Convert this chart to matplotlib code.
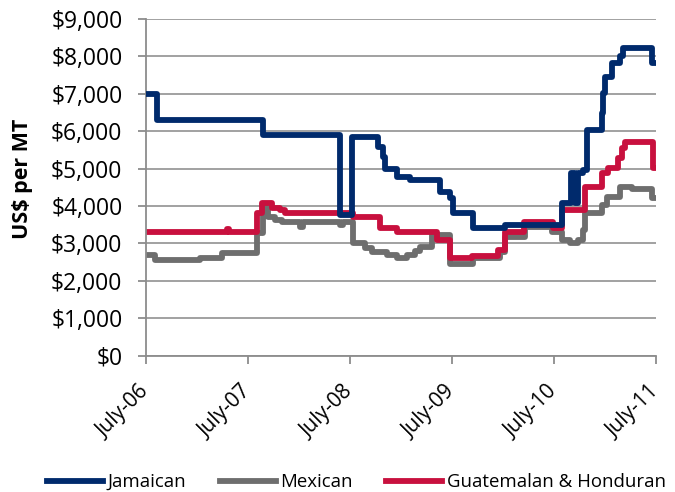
import matplotlib
matplotlib.use("Agg")
import matplotlib.pyplot as plt
from matplotlib.transforms import ScaledTranslation

# months since July 2006 where each price step begins (step-post)
jam_months = [0, 1.3, 13.8, 22.8, 24.2, 27.3, 27.9, 28.1, 29.5, 31.1, 34.6, 35.8, 36.1,
              38.5, 42.2, 48.9, 50.0, 50.5, 50.8, 51.4, 51.9, 53.6, 53.8, 54.0, 54.8,
              55.8, 56.1, 59.5, 60]
jam_price = [7000, 6300, 5900, 3750, 5850, 5570, 5300, 5000, 4770, 4690, 4370, 4200, 3800,
             3400, 3480, 4080, 4880, 4080, 4880, 4960, 6030, 6480, 7020, 7450, 7810,
             8020, 8220, 7810, 7810]

mex_months = [0, 1.1, 6.4, 8.9, 13.1, 13.8, 14.4, 15.2, 16.0, 18.1, 18.5, 22.8, 23.2,
              24.4, 25.8, 26.6, 28.4, 29.5, 30.7, 31.6, 32.2, 33.6, 35.8, 38.5, 41.6,
              42.2, 44.6, 47.8, 48.9, 49.9, 50.8, 51.4, 51.6, 53.6, 54.2, 55.8, 57.2,
              59.5, 60]
mex_price = [2700, 2550, 2620, 2750, 3270, 3940, 3700, 3620, 3580, 3450, 3580, 3480, 3580,
             3000, 2870, 2760, 2680, 2600, 2700, 2800, 2900, 3220, 2450, 2600, 2770,
             3170, 3440, 3300, 3090, 3000, 3090, 3360, 3800, 4020, 4230, 4500, 4450,
             4200, 4200]

gh_months = [0, 9.5, 9.8, 13.1, 13.6, 14.8, 15.8, 16.4, 24.4, 27.5, 29.5, 34.2, 35.8,
             38.4, 41.4, 42.2, 44.5, 47.9, 48.9, 51.6, 53.6, 54.4, 55.5, 56.0, 56.4,
             59.6, 60]
gh_price = [3300, 3390, 3300, 3800, 4080, 3940, 3880, 3800, 3700, 3400, 3300, 3100, 2600,
            2650, 2820, 3300, 3580, 3400, 3890, 4500, 4870, 5020, 5280, 5550, 5720,
            5020, 5020]

tick_months = [0, 12, 24, 36, 48, 60]
tick_labels = ["July-06", "July-07", "July-08", "July-09", "July-10", "July-11"]

plt.rcParams['font.family'] = ['Open Sans', 'DejaVu Sans']

fig = plt.figure(figsize=(6.75, 4.92), dpi=100)
ax = fig.add_axes([0.2163, 0.2774, 0.7556, 0.684])

ax.plot(jam_months, jam_price, drawstyle='steps-post', color='#002a6c', lw=4.2,
        label='Jamaican', zorder=3)
ax.plot(mex_months, mex_price, drawstyle='steps-post', color='#6e6e6e', lw=4.2,
        label='Mexican', zorder=2)
ax.plot(gh_months, gh_price, drawstyle='steps-post', color='#c8103e', lw=4.2,
        label='Guatemalan & Honduran', zorder=2.5)

ax.set_xlim(0, 60)
ax.set_ylim(0, 9000)
ax.set_yticks(range(0, 9001, 1000))
ax.set_yticklabels([f"${v:,}" for v in range(0, 9001, 1000)], fontsize=16.5)
ax.set_xticks(tick_months)
ax.set_xticklabels(tick_labels, rotation=45, ha='right', va='center',
                   rotation_mode='anchor', fontsize=15)
shift = ScaledTranslation(0.03, 0, fig.dpi_scale_trans)
for lbl in ax.get_xticklabels():
    lbl.set_transform(lbl.get_transform() + shift)

ax.grid(axis='y', color='#9a9a9a', lw=1.3)
ax.set_axisbelow(True)
for s in ['top', 'right']:
    ax.spines[s].set_visible(False)
for s in ['left', 'bottom']:
    ax.spines[s].set_color('#8c8c8c')
    ax.spines[s].set_linewidth(1.3)
ax.tick_params(axis='both', color='#8c8c8c', length=6, width=1.3)
ax.tick_params(axis='y', pad=11)
ax.tick_params(axis='x', pad=18)

ax.set_ylabel("US$ per MT", fontsize=15.5, fontweight='bold')
ax.yaxis.set_label_coords(-0.222, 0.526)

fig.legend(loc='center', bbox_to_anchor=(0.528, 0.02), ncol=3, frameon=False,
           fontsize=13.4, handlelength=3.0, columnspacing=1.8, handletextpad=0.25)

fig.savefig("out.png", dpi=100)
